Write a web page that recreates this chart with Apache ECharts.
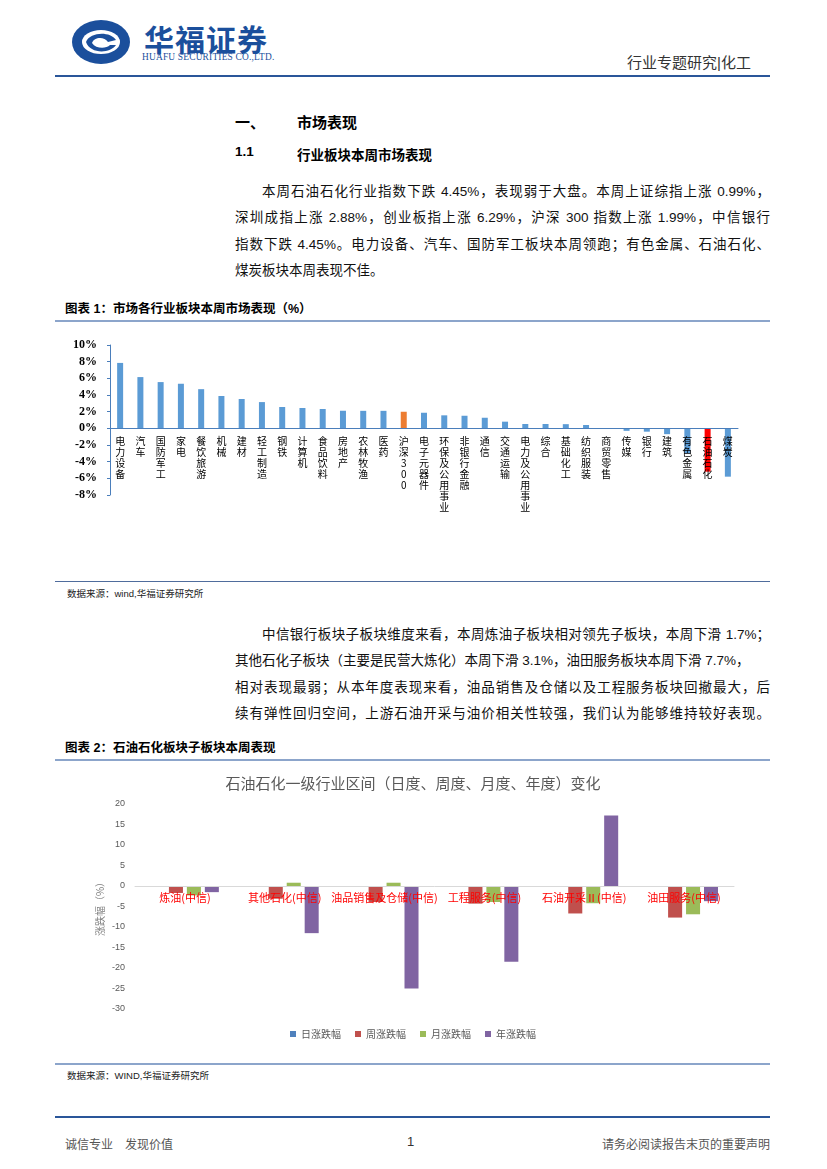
<!DOCTYPE html>
<html>
<head>
<meta charset="utf-8">
<script src="https://cdn.jsdelivr.net/npm/echarts@6/dist/echarts.min.js"></script>
<style>
  html, body { margin:0; padding:0; background:#fff; }
  body { width:827px; height:1169px; position:relative; overflow:hidden;
         font-family:"Liberation Sans","Noto Sans CJK SC",sans-serif; color:#000; }
  .abs { position:absolute; white-space:nowrap; }
  .hline { position:absolute; left:55px; width:715px; }
  .para { position:absolute; left:235px; width:535px; font-size:13.5px; color:#111; }
  .para div { height:26.3px; line-height:26.3px; text-align:justify; text-align-last:justify; white-space:nowrap; }
  .para div.last { text-align-last:left; }
  .cap { position:absolute; left:65px; font-size:12.5px; font-weight:bold; }
  .src { position:absolute; left:67px; font-size:9.5px; color:#222; }
</style>
</head>
<body>
<!-- header -->
<svg class="abs" style="left:70px;top:18px" width="62" height="48" viewBox="0 0 62 48">
  <ellipse cx="31" cy="24" rx="29" ry="22" fill="#1B4F9C"/>
  <ellipse cx="31" cy="24" rx="19" ry="12" fill="#fff"/>
  <path d="M16 24 C20 14, 40 13, 46 22 L38 24 C34 18, 24 19, 22 25 C26 31, 36 31, 40 27 L46 27 C40 36, 20 36, 16 24 Z" fill="#1B4F9C"/>
</svg>
<div class="abs" style="left:144px;top:16px;font-size:30px;font-weight:bold;color:#1B4F9C;letter-spacing:1px;font-family:'Noto Sans CJK SC',sans-serif;">华福证券</div>
<div class="abs" style="left:142px;top:52px;font-size:9.4px;color:#1B4F9C;font-family:'Liberation Serif',serif;letter-spacing:0.2px;">HUAFU SECURITIES CO.,LTD.</div>
<div class="abs" style="left:627px;top:51px;font-size:15px;color:#333;">行业专题研究|化工</div>
<div class="hline" style="top:75px;height:2px;background:#2A5699;"></div>

<div class="abs" style="left:235px;top:111px;font-size:15px;font-weight:bold;">一、</div>
<div class="abs" style="left:297px;top:111px;font-size:15px;font-weight:bold;">市场表现</div>
<div class="abs" style="left:235px;top:144px;font-size:13.5px;font-weight:bold;">1.1</div>
<div class="abs" style="left:297px;top:144px;font-size:13.5px;font-weight:bold;">行业板块本周市场表现</div>

<div class="para" style="top:179px;">
  <div style="padding-left:27px;">本周石油石化行业指数下跌 4.45%，表现弱于大盘。本周上证综指上涨 0.99%，</div>
  <div>深圳成指上涨 2.88%，创业板指上涨 6.29%，沪深 300 指数上涨 1.99%，中信银行</div>
  <div>指数下跌 4.45%。电力设备、汽车、国防军工板块本周领跑；有色金属、石油石化、</div>
  <div class="last">煤炭板块本周表现不佳。</div>
</div>

<div class="cap" style="top:298px;">图表 1：市场各行业板块本周市场表现（%）</div>
<div class="hline" style="top:320px;height:2px;background:#8CA5CB;"></div>
<div id="c1" class="abs" style="left:60px;top:330px;width:710px;height:245px;"></div>
<div class="hline" style="top:581px;height:1px;background:#4F6C9C;"></div>
<div class="src" style="top:586px;">数据来源：wind,华福证券研究所</div>

<div class="para" style="top:622px;">
  <div style="padding-left:27px;">中信银行板块子板块维度来看，本周炼油子板块相对领先子板块，本周下滑 1.7%；</div>
  <div class="last">其他石化子板块（主要是民营大炼化）本周下滑 3.1%，油田服务板块本周下滑 7.7%，</div>
  <div>相对表现最弱；从本年度表现来看，油品销售及仓储以及工程服务板块回撤最大，后</div>
  <div>续有弹性回归空间，上游石油开采与油价相关性较强，我们认为能够维持较好表现。</div>
</div>

<div class="cap" style="top:737px;">图表 2：石油石化板块子板块本周表现</div>
<div class="hline" style="top:759px;height:2px;background:#8CA5CB;"></div>
<div id="c2" class="abs" style="left:55px;top:765px;width:716px;height:295px;"></div>
<div class="hline" style="top:1063px;height:2px;background:#8CA5CB;"></div>
<div class="src" style="top:1068px;">数据来源：WIND,华福证券研究所</div>

<div class="hline" style="top:1116px;height:2px;background:#2A5699;"></div>
<div class="abs" style="left:65px;top:1135px;font-size:12px;color:#555;">诚信专业　发现价值</div>
<div class="abs" style="left:407px;top:1134px;font-size:13px;color:#333;">1</div>
<div class="abs" style="right:57px;top:1135px;font-size:12px;color:#555;">请务必阅读报告末页的重要声明</div>

<script>
// ---------- Chart 1 data ----------
const sectors = ['电力设备','汽车','国防军工','家电','餐饮旅游','机械','建材','轻工制造','钢铁','计算机',
  '食品饮料','房地产','农林牧渔','医药','沪深300','电子元器件','环保及公用事业','非银行金融','通信','交通运输',
  '电力及公用事业','综合','基础化工','纺织服装','商贸零售','传媒','银行','建筑','有色金属','石油石化','煤炭'];
const weeklyPct = [7.85,6.15,5.55,5.35,4.7,3.88,3.52,3.15,2.56,2.44,
  2.32,2.11,2.1,2.1,1.99,1.87,1.56,1.51,1.27,0.8,
  0.52,0.52,0.5,0.4,0.02,-0.3,-0.4,-0.7,-3.0,-5.2,-5.8];
const yTicks1 = { min:-8, max:10, step:2 };

// ---------- Chart 2 data ----------
const subSectors = ['炼油(中信)','其他石化(中信)','油品销售及仓储(中信)','工程服务(中信)','石油开采Ⅱ(中信)','油田服务(中信)'];
const seriesNames = ['日涨跌幅','周涨跌幅','月涨跌幅','年涨跌幅'];
const dailyChg   = [0, 0, 0, 0, 0, 0];
const weeklyChg  = [-1.7, -3.1, -3.9, -4.3, -6.7, -7.7];
const monthlyChg = [-2.3, 0.8, 0.8, -3.9, -4.2, -6.9];
const yearlyChg  = [-1.5, -11.5, -25.0, -18.5, 17.2, -3.7];
const yTicks2 = { min:-30, max:20, step:5 };

// offset that places a bottom category axis on the value axis' zero
function zeroOffset(gridH, t) { return -gridH * (0 - t.min) / (t.max - t.min); }

const g1 = { left:50, top:15, width:628, height:150 };
const c1 = echarts.init(document.getElementById('c1'));
const specialColor = { '沪深300':'#ED7D31', '石油石化':'#FF0000' };
c1.setOption({
  animation:false,
  grid:g1,
  xAxis:{
    type:'category', data:sectors, position:'bottom', offset:zeroOffset(g1.height, yTicks1),
    axisLine:{ onZero:false, lineStyle:{ color:'#4A7EBB', width:1 } },
    axisTick:{ show:false },
    axisLabel:{
      interval:0, margin:7, fontSize:10, lineHeight:11, color:'#000',
      fontFamily:'Noto Sans CJK SC',
      formatter: v => v.split('').join('\n')
    },
    z:10
  },
  yAxis:{
    type:'value', min:yTicks1.min, max:yTicks1.max, interval:yTicks1.step,
    axisLine:{ show:true, lineStyle:{ color:'#4A7EBB' } },
    axisTick:{ show:true, length:3, lineStyle:{ color:'#4A7EBB' } },
    splitLine:{ show:false },
    axisLabel:{ formatter: v => v + '%', fontSize:12, fontWeight:'bold', color:'#000',
      fontFamily:'Liberation Serif', margin:13 }
  },
  series:[{
    type:'bar', data:weeklyPct, barWidth:6,
    itemStyle:{ color: p => specialColor[sectors[p.dataIndex]] || '#5B9BD5' }
  }]
});

const g2 = { left:80, top:39, width:599, height:205 };
const c2 = echarts.init(document.getElementById('c2'));
const colors2 = ['#4F81BD','#C0504D','#9BBB59','#8064A2'];
const data2 = [dailyChg, weeklyChg, monthlyChg, yearlyChg];
c2.setOption({
  animation:false,
  color: colors2,
  title:{ text:'石油石化一级行业区间（日度、周度、月度、年度）变化', left:'center', top:6,
    textStyle:{ fontSize:15, fontWeight:'normal', color:'#595959', fontFamily:'Noto Sans CJK SC' } },
  legend:{ bottom:16, left:'center', itemWidth:6, itemHeight:6, itemGap:14, icon:'rect',
    textStyle:{ fontSize:10, color:'#595959', fontFamily:'Noto Sans CJK SC' }, data:seriesNames },
  grid:g2,
  xAxis:{
    type:'category', data:subSectors, position:'bottom', offset:zeroOffset(g2.height, yTicks2),
    axisLine:{ onZero:false, lineStyle:{ color:'#D9D9D9' } },
    axisTick:{ show:false },
    axisLabel:{ interval:0, margin:6, fontSize:11, color:'#FF0000', fontFamily:'Noto Sans CJK SC' },
    z:10
  },
  yAxis:{
    type:'value', min:yTicks2.min, max:yTicks2.max, interval:yTicks2.step,
    name:'涨跌幅（%）', nameLocation:'middle', nameRotate:90, nameGap:30, nameMoveOverlap:false,
    nameTextStyle:{ fontSize:10, color:'#7F7F7F', fontFamily:'Noto Sans CJK SC' },
    axisLine:{ show:false }, axisTick:{ show:false }, splitLine:{ show:false },
    axisLabel:{ fontSize:9, color:'#595959', margin:10 }
  },
  series: seriesNames.map((n,i) => ({
    name:n, type:'bar', data:data2[i], barGap:'28%', barCategoryGap:'32%'
  }))
});
</script>
</body>
</html>
